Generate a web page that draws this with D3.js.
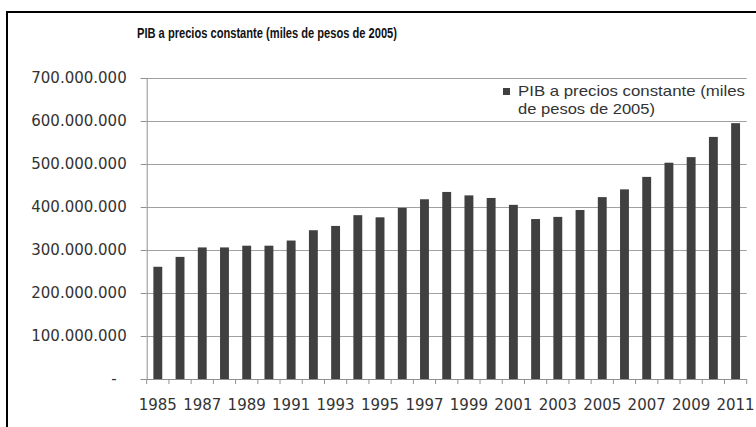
<!DOCTYPE html>
<html>
<head>
<meta charset="utf-8">
<script src="https://cdn.jsdelivr.net/npm/d3@7"></script>
<style>
  html, body { margin: 0; padding: 0; background: #fff; }
  svg { display: block; }
</style>
</head>
<body>
<svg id="chart" width="756" height="427"></svg>
<script>
const years = [1985,1986,1987,1988,1989,1990,1991,1992,1993,1994,1995,1996,1997,1998,1999,2000,2001,2002,2003,2004,2005,2006,2007,2008,2009,2010,2011];
const pib = [261e6,284e6,306e6,306e6,310e6,310e6,322e6,346e6,356e6,381e6,376e6,398e6,418e6,435e6,427e6,421e6,405e6,372e6,377e6,393e6,423e6,441e6,470e6,503e6,516e6,563e6,595e6];
const yTicks = [0,100e6,200e6,300e6,400e6,500e6,600e6,700e6];
const xLabels = years.filter(y => y % 2 === 1);
const title = "PIB a precios constante (miles de pesos de 2005)";
const legendLines = ["PIB a precios constante (miles", "de pesos de 2005)"];

(function () {
const svg = d3.select("#chart");
const pLeft = 146.7, pRight = 746.7, pTop = 78, pBottom = 379;

// frame
svg.append("rect").attr("x", 7).attr("y", 12).attr("width", 760).attr("height", 430)
  .attr("fill", "none").attr("stroke", "#000").attr("stroke-width", 2);

const x = d3.scaleBand().domain(years).range([pLeft, pRight]).paddingInner(0.6).paddingOuter(0.3);
const y = d3.scaleLinear().domain([0, 700e6]).range([pBottom, pTop]);

const loc = d3.formatLocale({decimal: ",", thousands: ".", grouping: [3], currency: ["$", ""]});
const fmt = loc.format(",.0f");

// gridlines
svg.append("g").selectAll("line").data(yTicks.filter(d => d > 0)).join("line")
  .attr("x1", pLeft).attr("x2", pRight)
  .attr("y1", d => Math.round(y(d)) + 0.5).attr("y2", d => Math.round(y(d)) + 0.5)
  .attr("stroke", "#a0a0a0").attr("stroke-width", 1);

// y axis
const yAxis = svg.append("g").attr("transform", `translate(${pLeft},0)`)
  .call(d3.axisLeft(y).tickValues(yTicks).tickSize(6).tickPadding(14).tickFormat(d => d === 0 ? "-" : fmt(d)));
yAxis.select(".domain").attr("stroke", "#909090");
yAxis.selectAll(".tick line").attr("stroke", "#909090");
yAxis.selectAll("text").attr("font-family", "DejaVu Sans").attr("font-size", 15).attr("fill", "#333")
  .attr("dx", d => d === 0 ? -10 : 0);

// bars
svg.append("g").selectAll("rect").data(years).join("rect")
  .attr("x", d => x(d)).attr("width", x.bandwidth())
  .attr("y", (d, i) => y(pib[i])).attr("height", (d, i) => pBottom - y(pib[i]))
  .attr("fill", "#404040");

// x axis
svg.append("line").attr("x1", pLeft).attr("x2", pRight).attr("y1", pBottom + 0.5).attr("y2", pBottom + 0.5)
  .attr("stroke", "#909090");
const boundaries = d3.range(years.length + 1).map(i => pLeft + i * x.step());
svg.append("g").selectAll("line").data(boundaries).join("line")
  .attr("x1", d => d).attr("x2", d => d).attr("y1", pBottom).attr("y2", pBottom + 5)
  .attr("stroke", "#909090");
svg.append("g").selectAll("text").data(xLabels).join("text")
  .attr("x", d => x(d) + x.bandwidth() / 2).attr("y", 410)
  .attr("text-anchor", "middle").attr("font-family", "DejaVu Sans").attr("font-size", 15)
  .attr("fill", "#333").text(d => d);

// title
svg.append("text").attr("x", 137).attr("y", 38)
  .attr("font-family", "'Liberation Sans Narrow', 'Liberation Sans'").attr("font-weight", "bold").attr("font-size", 15)
  .attr("textLength", 260).attr("lengthAdjust", "spacingAndGlyphs")
  .attr("fill", "#111").text(title);

// legend
svg.append("rect").attr("x", 503).attr("y", 88).attr("width", 7).attr("height", 7).attr("fill", "#404040");
svg.append("text").attr("x", 518).attr("y", 96)
  .attr("font-family", "Liberation Sans").attr("font-size", 14.5)
  .attr("textLength", 227).attr("lengthAdjust", "spacingAndGlyphs")
  .attr("fill", "#333").text(legendLines[0]);
svg.append("text").attr("x", 518).attr("y", 113.5)
  .attr("font-family", "Liberation Sans").attr("font-size", 14.5)
  .attr("textLength", 137).attr("lengthAdjust", "spacingAndGlyphs")
  .attr("fill", "#333").text(legendLines[1]);
})();
</script>
</body>
</html>
